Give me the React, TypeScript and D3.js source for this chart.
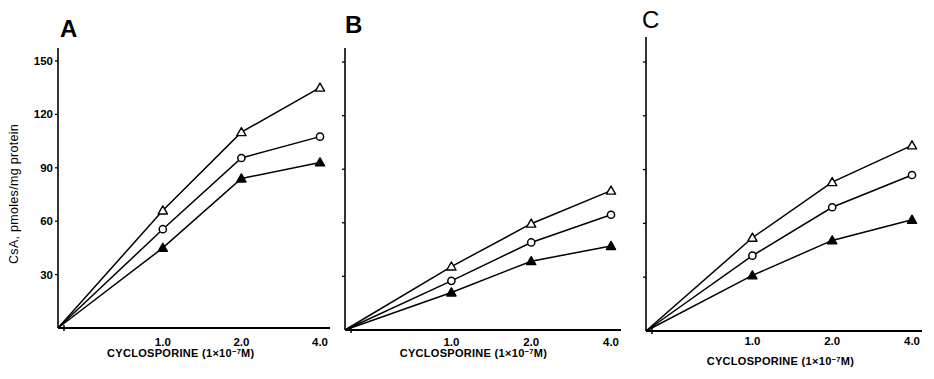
import React from "react";
import * as d3 from "d3";

// ---- data ----
const xValues = [0, 1, 2, 4];
const xTickValues = [1, 2, 4];
const xTickLabels = ["1.0", "2.0", "4.0"];
const yTicks = [30, 60, 90, 120, 150];
const panelLetters = ["A", "B", "C"];

const openTriangleA = [0, 66, 110, 135];
const openCircleA = [0, 55.5, 95.5, 107.5];
const filledTriangleA = [0, 45, 84, 93];

const openTriangleB = [0, 35.5, 59.5, 78];
const openCircleB = [0, 27.5, 49, 64.5];
const filledTriangleB = [0, 21, 38.5, 47];

const openTriangleC = [0, 52, 83, 103.5];
const openCircleC = [0, 42, 69, 87];
const filledTriangleC = [0, 31, 50.5, 62];

const panelsData = [
  [openTriangleA, openCircleA, filledTriangleA],
  [openTriangleB, openCircleB, filledTriangleB],
  [openTriangleC, openCircleC, filledTriangleC],
];
const seriesKinds = ["openTriangle", "openCircle", "filledTriangle"];

// ---- layout ----
const layouts = [
  { x0: 58, w: 262, y0: 328, y150: 61, axisTop: 48, letterX: 60, letterY: 37, letterWeight: 700, tickY: 346, titleY: 357, titleDx: 18, showY: true },
  { x0: 345, w: 266, y0: 330, y150: 62, axisTop: 48, letterX: 345, letterY: 33, letterWeight: 700, tickY: 346, titleY: 357, titleDx: 22, showY: false },
  { x0: 646, w: 266, y0: 331, y150: 62, axisTop: 37, letterX: 642, letterY: 28, letterWeight: 400, tickY: 345, titleY: 365, titleDx: 28, showY: false },
];

const font = "'Liberation Sans', Arial, sans-serif";

function Marker({ kind, x, y }: { kind: string; x: number; y: number }) {
  if (kind === "openCircle") {
    return <circle cx={x} cy={y} r={3.6} fill="white" stroke="black" strokeWidth={1.5} />;
  }
  const s = 4.6;
  const path = `M${x},${y - s}L${x + s},${y + s * 0.75}L${x - s},${y + s * 0.75}Z`;
  return (
    <path
      d={path}
      fill={kind === "filledTriangle" ? "black" : "white"}
      stroke="black"
      strokeWidth={1.4}
      strokeLinejoin="round"
    />
  );
}

function Panel({ idx }: { idx: number }) {
  const L = layouts[idx];
  const x = d3
    .scaleLinear()
    .domain(xValues)
    .range([L.x0, L.x0 + L.w * 0.4, L.x0 + L.w * 0.7, L.x0 + L.w]);
  const y = d3.scaleLinear().domain([0, 150]).range([L.y0, L.y150]);
  const line = d3
    .line<number>()
    .x((_, i) => x(xValues[i]))
    .y((d) => y(d));

  return (
    <g>
      <text
        x={L.letterX}
        y={L.letterY}
        fontFamily={font}
        fontSize={24}
        fontWeight={L.letterWeight}
      >
        {panelLetters[idx]}
      </text>
      {/* axes */}
      <line x1={L.x0} x2={L.x0} y1={L.axisTop} y2={L.y0} stroke="black" strokeWidth={1.6} />
      <line x1={L.x0} x2={x(4) + 10} y1={L.y0} y2={L.y0} stroke="black" strokeWidth={1.8} />
      <line x1={L.x0 + 6} x2={L.x0 + 6} y1={L.y0 - 3} y2={L.y0 + 3} stroke="black" strokeWidth={1.5} />
      {yTicks.map((t) => (
        <g key={t}>
          <line x1={L.x0 - 3} x2={L.x0} y1={y(t)} y2={y(t)} stroke="black" strokeWidth={1.3} />
          {L.showY && (
            <text
              x={L.x0 - 5}
              y={y(t) + 4}
              textAnchor="end"
              fontFamily={font}
              fontSize={11.5}
              fontWeight={700}
            >
              {t}
            </text>
          )}
        </g>
      ))}
      {xTickValues.map((v, i) => (
        <text
          key={v}
          x={x(v)}
          y={L.tickY}
          textAnchor="middle"
          fontFamily={font}
          fontSize={11.5}
          fontWeight={700}
        >
          {xTickLabels[i]}
        </text>
      ))}
      <text
        x={x(1) + L.titleDx}
        y={L.titleY}
        textAnchor="middle"
        fontFamily={font}
        fontSize={11}
        fontWeight={700}
        letterSpacing={0.3}
      >
        CYCLOSPORINE (1×10
        <tspan dy={-3} fontSize={7.5}>−7</tspan>
        <tspan dy={3}>M)</tspan>
      </text>
      {panelsData[idx].map((series, si) => (
        <g key={si}>
          <path d={line(series) || ""} fill="none" stroke="black" strokeWidth={1.5} />
          {series.slice(1).map((v, i) => (
            <Marker key={i} kind={seriesKinds[si]} x={x(xValues[i + 1])} y={y(v)} />
          ))}
        </g>
      ))}
    </g>
  );
}

export default function App() {
  return (
    <svg
      width={934}
      height={379}
      style={{ position: "absolute", left: 0, top: 0, background: "white" }}
    >
      <rect width={934} height={379} fill="white" />
      <text
        transform="translate(18,194) rotate(-90)"
        textAnchor="middle"
        fontFamily={font}
        fontSize={12.5}
        letterSpacing={0.3}
      >
        CsA, pmoles/mg protein
      </text>
      {[0, 1, 2].map((i) => (
        <Panel key={i} idx={i} />
      ))}
    </svg>
  );
}
